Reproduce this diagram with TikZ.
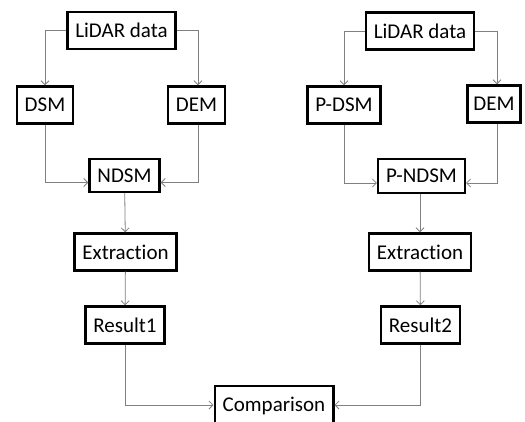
\documentclass[tikz,border=0pt]{standalone}
\usepackage{fontspec}
\setmainfont{Carlito}[Ligatures={NoCommon,NoRare}]
\usetikzlibrary{arrows.meta,positioning}

\begin{document}
\begin{tikzpicture}[x=1pt,y=-1pt,
    box/.style={draw,line width=2.4pt,inner xsep=8pt,minimum height=37pt,
        font=\fontsize{21}{25}\selectfont},
    flow/.style={draw=gray,line width=0.8pt,-{Straight Barb[length=4pt,width=8pt]}}]
    \clip (0,0) rectangle (525,421);

    % first chain
    \node[box] (lidarA) at (121.5,30.5) {LiDAR data};
    \node[box] (dsmA) at (45,105) {DSM};
    \node[box] (demA) at (196.5,105) {DEM};
    \node[box,minimum height=33pt] (ndsmA) at (124.5,175.5) {NDSM};
    \node[box] (extrA) at (125.5,252) {Extraction};
    \node[box] (resA) at (125,325) {Result1};

    % second chain
    \node[box] (lidarB) at (420,31) {LiDAR data};
    \node[box] (dsmB) at (344,105) {P-DSM};
    \node[box,inner xsep=6pt] (demB) at (494,104) {DEM};
    \node[box,minimum height=34pt] (ndsmB) at (421.5,176) {P-NDSM};
    \node[box] (extrB) at (420,252) {Extraction};
    \node[box] (resB) at (420.5,325) {Result2};

    % bottom edge runs off the page
    \node[box,minimum height=40pt] (cmp) at (274,406) {Comparison};

    \draw[flow] (lidarA.west) -| (dsmA.north);
    \draw[flow] (lidarA.east) -| ([xshift=1.5pt]demA.north);
    \draw[flow] (dsmA.south) |- ([yshift=-7pt]ndsmA.west);
    \draw[flow] ([xshift=1.5pt]demA.south) |- ([yshift=-7pt]ndsmA.east);
    \draw[flow] (ndsmA) -- (extrA);
    \draw[flow] (extrA) -- (resA);
    \draw[flow] (resA.south) |- ([yshift=1pt]cmp.west);

    \draw[flow] (lidarB.west) -| (dsmB.north);
    \draw[flow] (lidarB.east) -| ([xshift=3pt]demB.north);
    \draw[flow] (dsmB.south) |- ([yshift=-7pt]ndsmB.west);
    \draw[flow] ([xshift=3pt]demB.south) |- ([yshift=-7pt]ndsmB.east);
    \draw[flow] (ndsmB.south -| extrB) -- (extrB);
    \draw[flow] (extrB) -- (resB);
    \draw[flow] (resB.south) |- ([yshift=1pt]cmp.east);
\end{tikzpicture}
\end{document}
